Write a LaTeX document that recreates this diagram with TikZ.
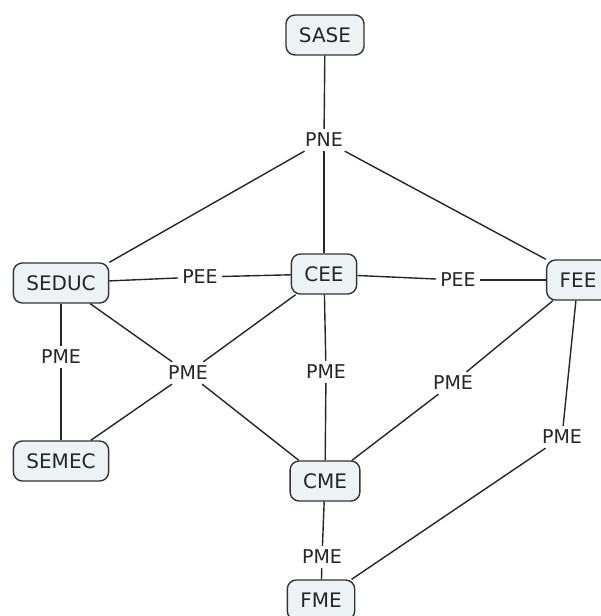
\documentclass[tikz,border=0pt]{standalone}
\usepackage{fontspec}
\setmainfont{DejaVu Sans}
\begin{document}
\begin{tikzpicture}[x=1pt,y=-1pt,
  concept/.style={draw=black!80, line width=1.4pt, fill=cfill, rounded corners=9pt,
    minimum height=40pt, inner xsep=13pt, text=black!85,
    font=\fontsize{20}{22}\selectfont},
  lbl/.style={inner sep=4pt, text=black!85, font=\fontsize{19}{21}\selectfont},
  conn/.style={draw=black!85, line width=1.4pt}]
\definecolor{cfill}{HTML}{EDF3F5}
\useasboundingbox (0,0) rectangle (601,616);
% concepts
\node[concept] (sase) at (325,35) {SASE};
\node[concept] (seduc) at (61,283) {SEDUC};
\node[concept] (cee) at (324,274) {CEE};
\node[concept] (fee) at (578,280) {FEE};
\node[concept] (semec) at (61,461) {SEMEC};
\node[concept] (cme) at (325,481) {CME};
\node[concept] (fme) at (321,600) {FME};
% linking phrases
\node[lbl] (pne) at (324,140) {PNE};
\node[lbl] (pee1) at (200,277) {PEE};
\node[lbl] (pee2) at (458,280) {PEE};
\node[lbl] (pme1) at (61,357) {PME};
\node[lbl] (pme2) at (188,373) {PME};
\node[lbl] (pme3) at (326,372) {PME};
\node[lbl] (pme4) at (453,383) {PME};
\node[lbl] (pme5) at (562,437) {PME};
\node[lbl] (pme6) at (322,557) {PME};
% connectors
\draw[conn] (sase) -- (pne);
\draw[conn] (pne) -- (cee);
\draw[conn] (pne) -- (seduc.north east);
\draw[conn] (pne) -- (fee.north west);
\draw[conn] (seduc) -- (pee1);
\draw[conn] (pee1) -- (cee);
\draw[conn] (cee) -- (pee2);
\draw[conn] (pee2) -- (fee);
\draw[conn] (seduc) -- (pme1);
\draw[conn] (pme1) -- (semec);
\draw[conn] (seduc) -- (pme2);
\draw[conn] (pme2) -- (cme);
\draw[conn] (cee) -- (pme2);
\draw[conn] (pme2) -- (semec);
\draw[conn] (cee) -- (pme3);
\draw[conn] (pme3) -- (cme);
\draw[conn] (fee) -- (pme4);
\draw[conn] (pme4) -- (cme);
\draw[conn] (fee) -- (pme5);
\draw[conn] (pme5) -- (fme);
\draw[conn] (cme) -- (pme6);
\draw[conn] (pme6) -- (fme);
\end{tikzpicture}
\end{document}
